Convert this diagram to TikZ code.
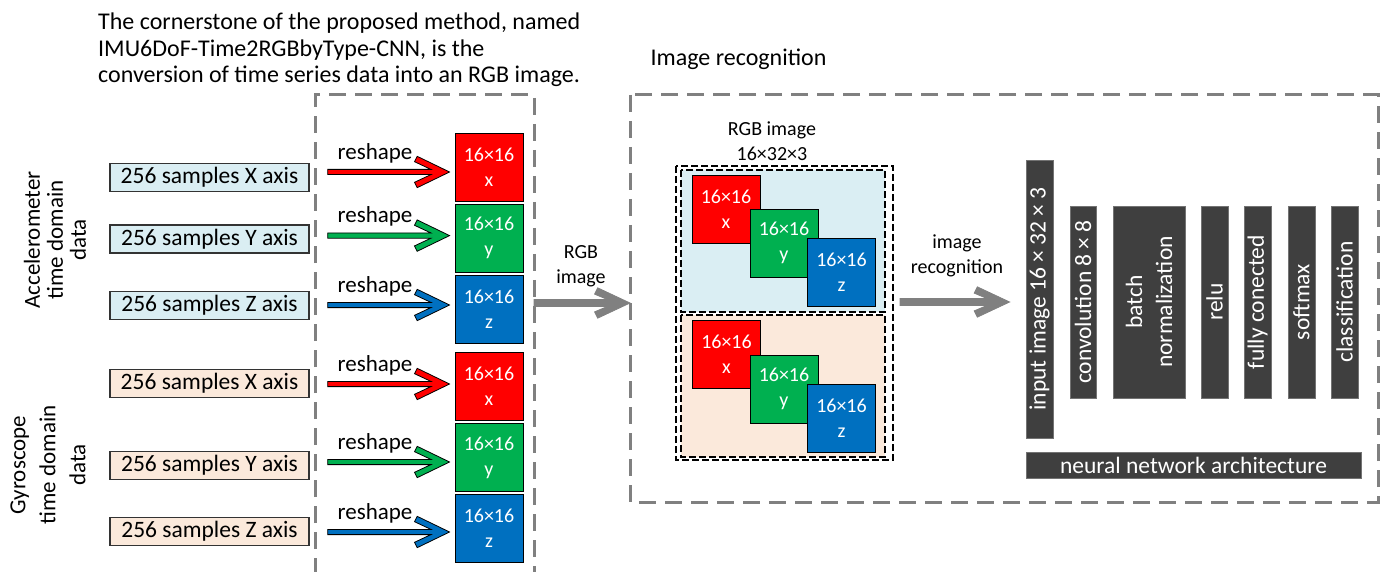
\documentclass[tikz,border=0pt]{standalone}
\usepackage{fontspec}
\setmainfont{Carlito}
\usetikzlibrary{calc}
\definecolor{cred}{HTML}{FF0000}
\definecolor{cgreen}{HTML}{00B050}
\definecolor{cblue}{HTML}{0070C0}
\definecolor{lblue}{HTML}{DAEEF3}
\definecolor{lpeach}{HTML}{FBE9DB}
\definecolor{dgray}{HTML}{3F3F3F}
\definecolor{agray}{HTML}{808080}
\newcommand\fatarrow[8]{%
 \filldraw[fill=#3,draw=#4,line width=0.8pt,line join=miter] let \p1=#1, \p2=#2 in
 (\x2,\y2)
 -- (\x2-2.236*#5pt-#7pt+0.447*#5pt, \y2+#8pt+0.894*#5pt)
 -- (\x2-2.236*#5pt-#7pt-0.447*#5pt, \y2+#8pt-0.894*#5pt)
 -- (\x2-4.472*#5pt-2*#6pt, \y2+#6pt)
 -- (\x1, \y2+#6pt)
 -- (\x1, \y2-#6pt)
 -- (\x2-4.472*#5pt-2*#6pt, \y2-#6pt)
 -- (\x2-2.236*#5pt-#7pt-0.447*#5pt, \y2-#8pt+0.894*#5pt)
 -- (\x2-2.236*#5pt-#7pt+0.447*#5pt, \y2-#8pt-0.894*#5pt)
 -- cycle;}
\tikzset{
 inbox/.style={draw=black!80,line width=1.3pt,minimum width=199pt,minimum height=28pt,inner sep=0pt,font=\fontsize{23.5}{26}\selectfont},
 accbox/.style={inbox,fill=lblue},
 gyrbox/.style={inbox,fill=lpeach},
 sq/.style={draw=black,line width=0.9pt,minimum width=68pt,minimum height=68pt,inner sep=0pt,text=white,align=center,font=\fontsize{20}{25}\selectfont},
 lbl/.style={align=center,inner sep=0pt,font=\fontsize{20}{25}\selectfont},
 rlbl/.style={inner sep=0pt,font=\fontsize{23}{26}\selectfont},
 nn/.style={fill=dgray,draw=black!55,line width=0.8pt,text=white,rotate=90,inner sep=0pt,align=center,font=\fontsize{23.5}{30}\selectfont},
 gdash/.style={draw=agray,line width=3pt,dash pattern=on 17pt off 9pt},
 bdash/.style={draw=black,line width=1.3pt,dash pattern=on 7pt off 3pt},
}
\begin{document}
\begin{tikzpicture}[x=1pt,y=-1pt]
\useasboundingbox (0,0) rectangle (1387,572);
% titles
\node[anchor=north west,align=left,inner sep=0pt,font=\fontsize{24}{26.5}\selectfont] (title) at (98,13)
 {The cornerstone of the proposed method, named\\IMU6DoF-Time2RGBbyType-CNN, is the\\conversion of time series data into an RGB image.};
\node[inner sep=0pt,font=\fontsize{24}{26}\selectfont] (irtitle) at (738.5,59) {Image recognition};
% side labels
\node[rotate=90,align=center,inner sep=0pt,font=\fontsize{23}{23}\selectfont] (acclab) at (55,240) {Accelerometer\\time domain\\data};
\node[rotate=90,align=center,inner sep=0pt,font=\fontsize{23}{30}\selectfont] (gyrlab) at (48,465) {Gyroscope\\time domain\\data};
% dashed boxes
\draw[gdash] (315,575) -- (315,95) -- (534,95) -- (534,575);
\draw[gdash] (630,95) rectangle (1378,502);
% input boxes
\node[accbox] (ax) at (209.5,177.5) {256 samples X axis};
\node[accbox] (ay) at (209.5,239) {256 samples Y axis};
\node[accbox] (az) at (209.5,305.5) {256 samples Z axis};
\node[gyrbox] (gx) at (209.5,383.5) {256 samples X axis};
\node[gyrbox] (gy) at (209.5,465.5) {256 samples Y axis};
\node[gyrbox] (gz) at (209.5,531.5) {256 samples Z axis};
% squares
\node[sq,fill=cred] (sax) at (489,167) {16×16\\x};
\node[sq,fill=cgreen] (say) at (489,238) {16×16\\y};
\node[sq,fill=cblue] (saz) at (489,309) {16×16\\z};
\node[sq,fill=cred] (sgx) at (489,386.5) {16×16\\x};
\node[sq,fill=cgreen] (sgy) at (489,457.5) {16×16\\y};
\node[sq,fill=cblue] (sgz) at (489,528.5) {16×16\\z};
% reshape arrows
\fatarrow{($(ax.east)+(18,0)$)}{($(sax.west)+(-5,5)$)}{cred}{black}{3}{2.6}{27}{13}
\fatarrow{($(ay.east)+(18,0)$)}{($(say.west)+(-5,-2.4)$)}{cgreen}{black}{3}{2.6}{27}{13}
\fatarrow{($(az.east)+(18,0)$)}{($(saz.west)+(-5,-4)$)}{cblue}{black}{3}{2.6}{27}{13}
\fatarrow{($(gx.east)+(18,0)$)}{($(sgx.west)+(-5,-2.5)$)}{cred}{black}{3}{2.6}{27}{13}
\fatarrow{($(gy.east)+(18,0)$)}{($(sgy.west)+(-5,4.5)$)}{cgreen}{black}{3}{2.6}{27}{13}
\fatarrow{($(gz.east)+(18,0)$)}{($(sgz.west)+(-5,3.5)$)}{cblue}{black}{3}{2.6}{27}{13}
\foreach \yy/\nm in {153/r1,216.6/r2,286/r3,365/r4,443/r5,513/r6}
 \node[rlbl] (\nm) at (375,\yy) {reshape};
% RGB image composite
\node[lbl] (rgbcap) at (772,141) {RGB image\\16×32×3};
\draw[bdash] (676,166) rectangle (893,460);
\draw[bdash,fill=lblue] (681,170) rectangle (885,312);
\draw[bdash,fill=lpeach] (681,315) rectangle (885,457);
\coordinate (rgbE) at (900,302);
\node[sq,fill=cred] (tx) at (726,209) {16×16\\x};
\node[sq,fill=cgreen] (ty) at (784,243) {16×16\\y};
\node[sq,fill=cblue] (tz) at (841.5,272) {16×16\\z};
\node[sq,fill=cred] (bx) at (726.5,354) {16×16\\x};
\node[sq,fill=cgreen] (by) at (784,389) {16×16\\y};
\node[sq,fill=cblue] (bz) at (841.5,418) {16×16\\z};
% gray arrows
\coordinate (lbE) at (534,303);
\coordinate (rbW) at (630,303);
\fatarrow{(lbE)}{(rbW)}{agray}{agray}{3.5}{3.5}{26}{12}
\node[lbl] (rgblab) at (581,266) {RGB\\image};
% NN blocks
\node[nn,minimum width=278pt,minimum height=27pt] (inp) at (1039.5,299) {input image 16 × 32 × 3};
\node[nn,minimum width=192pt,minimum height=26pt] (conv) at (1083,302) {convolution 8 × 8};
\node[nn,minimum width=192pt,minimum height=72pt] (bn) at (1149,302) {batch\\normalization};
\node[nn,minimum width=192pt,minimum height=27pt] (relu) at (1214.5,302) {relu};
\node[nn,minimum width=192pt,minimum height=27pt] (fc) at (1257.5,302) {fully conected};
\node[nn,minimum width=192pt,minimum height=27pt] (sm) at (1301.5,302) {softmax};
\node[nn,minimum width=192pt,minimum height=27pt] (cls) at (1344.5,302) {classification};
\node[nn,rotate=-90,minimum width=335pt,minimum height=26pt] (arch) at (1193.5,465) {neural network architecture};
\fatarrow{(rgbE)}{($(inp.north)+(-16,3)$)}{agray}{agray}{3.5}{3.5}{26}{12}
\node[lbl] (irlab) at (957,256) {image\\recognition};
\end{tikzpicture}
\end{document}
